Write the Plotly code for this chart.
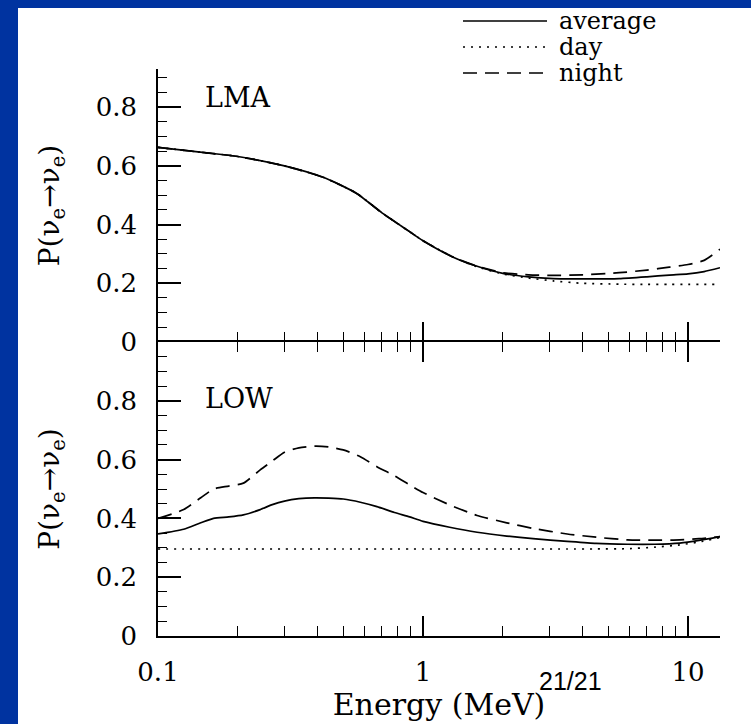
import plotly.graph_objects as go

# ---- data ----
E_lma = [0.1, 0.15, 0.2, 0.3, 0.42, 0.56, 0.7, 0.87, 1.0, 1.3, 1.6, 2.0, 2.5, 3.1, 4.0, 5.5, 7.0, 8.5, 10.0, 11.5, 13.2]
lma_avg = [0.663, 0.645, 0.632, 0.600, 0.561, 0.507, 0.440, 0.382, 0.345, 0.289, 0.258, 0.234, 0.222, 0.216, 0.215, 0.216, 0.222, 0.228, 0.232, 0.240, 0.253]
lma_day = [0.663, 0.645, 0.632, 0.600, 0.561, 0.507, 0.440, 0.382, 0.345, 0.289, 0.256, 0.232, 0.218, 0.208, 0.200, 0.197, 0.196, 0.196, 0.196, 0.196, 0.196]
lma_night = [0.663, 0.645, 0.632, 0.600, 0.561, 0.507, 0.440, 0.382, 0.345, 0.289, 0.258, 0.236, 0.229, 0.227, 0.229, 0.236, 0.245, 0.255, 0.264, 0.278, 0.316]

E_low = [0.1, 0.125, 0.145, 0.162, 0.185, 0.21, 0.243, 0.27, 0.3, 0.34, 0.39, 0.44, 0.5, 0.58, 0.67, 0.78, 0.89, 1.0, 1.26, 1.6, 2.07, 2.6, 3.5, 4.5, 5.9, 7.5, 9.3, 11.0, 13.2]
low_avg = [0.347, 0.363, 0.385, 0.400, 0.405, 0.412, 0.430, 0.447, 0.459, 0.467, 0.470, 0.469, 0.466, 0.455, 0.440, 0.420, 0.405, 0.390, 0.370, 0.353, 0.340, 0.331, 0.322, 0.315, 0.312, 0.312, 0.316, 0.325, 0.338]
low_day = [0.296, 0.296, 0.296, 0.296, 0.296, 0.296, 0.296, 0.296, 0.296, 0.296, 0.296, 0.296, 0.296, 0.296, 0.296, 0.296, 0.296, 0.296, 0.296, 0.296, 0.296, 0.296, 0.296, 0.296, 0.297, 0.302, 0.310, 0.320, 0.335]
low_night = [0.400, 0.430, 0.470, 0.500, 0.510, 0.520, 0.565, 0.595, 0.625, 0.640, 0.646, 0.643, 0.633, 0.610, 0.576, 0.545, 0.514, 0.488, 0.446, 0.410, 0.385, 0.366, 0.347, 0.336, 0.327, 0.326, 0.327, 0.331, 0.338]

series_names = ["average", "day", "night"]
series_dash = ["solid", "2px,6px", "14px,8px"]

x_tickvals = [0.1, 1, 10]
x_ticktext = ["0.1", "1", "10"]
x_minor = [0.2, 0.3, 0.4, 0.5, 0.6, 0.7, 0.8, 0.9, 2, 3, 4, 5, 6, 7, 8, 9]
y_tickvals = [0, 0.2, 0.4, 0.6, 0.8]
y_ticktext = ["0", "0.2", "0.4", "0.6", "0.8"]

BLUE = "#0033a0"
SERIF = "DejaVu Serif"

# ---- layout geometry (pixels) ----
W, H = 751, 724
L, R = 158, 720
T, B = 69, 636
MID = 342
pw, ph = R - L, B - T


def px_x(px):
    return (px - L) / pw


def px_y(py):
    return (B - py) / ph


fig = go.Figure()

panels = [
    (E_lma, [lma_avg, lma_day, lma_night], "x", "y"),
    (E_low, [low_avg, low_day, low_night], "x2", "y2"),
]
for E, ys, xa, ya in panels:
    for name, vals, dash in zip(series_names, ys, series_dash):
        fig.add_trace(go.Scatter(
            x=E, y=vals, xaxis=xa, yaxis=ya, mode="lines", name=name,
            line=dict(color="black", width=1.7, dash=dash, shape="spline", smoothing=0.6),
            showlegend=False, hoverinfo="skip"))

xr = [-1, 1.1206]
common_x = dict(type="log", range=xr, showgrid=False, zeroline=False,
                linecolor="black", linewidth=1.6,
                tickvals=x_tickvals, ticks="inside", tickcolor="black",
                tickwidth=1.6, ticklen=20,
                minor=dict(tickvals=x_minor, ticks="inside", ticklen=10,
                           tickcolor="black", tickwidth=1.4))
common_y = dict(showgrid=False, zeroline=False, showline=True, linecolor="black",
                linewidth=1.6, tickvals=y_tickvals, ticktext=y_ticktext,
                ticks="inside", ticklen=23, tickwidth=1.6, tickcolor="black",
                minor=dict(dtick=0.05, ticks="inside", ticklen=9, tickwidth=1.4,
                           tickcolor="black"),
                tickfont=dict(family=SERIF, size=26, color="black"),
                ticklabelstandoff=14)

ytitle = dict(text="P(ν<sub>e</sub>→ν<sub>e</sub>)", font=dict(family=SERIF, size=28, color="black"), standoff=28)

fig.update_layout(
    width=W, height=H,
    margin=dict(l=L, r=W - R, t=T, b=H - B, pad=0),
    paper_bgcolor=BLUE, plot_bgcolor="white",
    showlegend=False,
    xaxis=dict(common_x, anchor="y", domain=[0, 1], showline=False, showticklabels=False),
    yaxis=dict(common_y, anchor="x", domain=[px_y(MID), 1], range=[0, 0.93], title=ytitle),
    xaxis2=dict(common_x, anchor="y2", domain=[0, 1], showline=True, mirror="ticks",
                ticktext=x_ticktext, showticklabels=True,
                tickfont=dict(family=SERIF, size=26, color="black"),
                ticklabelstandoff=12,
                title=dict(text="Energy (MeV)", font=dict(family=SERIF, size=30, color="black"), standoff=4)),
    yaxis2=dict(common_y, anchor="x2", domain=[0, px_y(MID)], range=[0, 1.0], title=ytitle),
)

# white page area over the blue frame
fig.add_shape(type="rect", xref="paper", yref="paper", layer="below",
              x0=px_x(18), x1=px_x(W + 5), y0=px_y(H + 5), y1=px_y(8),
              fillcolor="white", line=dict(width=0))

# panel labels
fig.add_annotation(text="LMA", xref="paper", yref="paper", x=px_x(203), y=px_y(97),
                   xanchor="left", yanchor="middle", showarrow=False,
                   font=dict(family=SERIF, size=27, color="black"))
fig.add_annotation(text="LOW", xref="paper", yref="paper", x=px_x(203), y=px_y(398),
                   xanchor="left", yanchor="middle", showarrow=False,
                   font=dict(family=SERIF, size=27, color="black"))

# legend key
leg_rows = [21, 47, 73]
for name, dash, ry in zip(series_names, series_dash, leg_rows):
    fig.add_shape(type="line", xref="paper", yref="paper",
                  x0=px_x(463), x1=px_x(547), y0=px_y(ry), y1=px_y(ry),
                  line=dict(color="black", width=1.6, dash=dash))
    fig.add_annotation(text=name, xref="paper", yref="paper", x=px_x(557), y=px_y(ry),
                       xanchor="left", yanchor="middle", showarrow=False,
                       font=dict(family=SERIF, size=24, color="black"))

# slide number
fig.add_annotation(text="21/21", xref="paper", yref="paper", x=px_x(570), y=px_y(681),
                   xanchor="center", yanchor="middle", showarrow=False,
                   font=dict(family="Liberation Sans", size=25, color="black"))

fig.write_html("out.html")
